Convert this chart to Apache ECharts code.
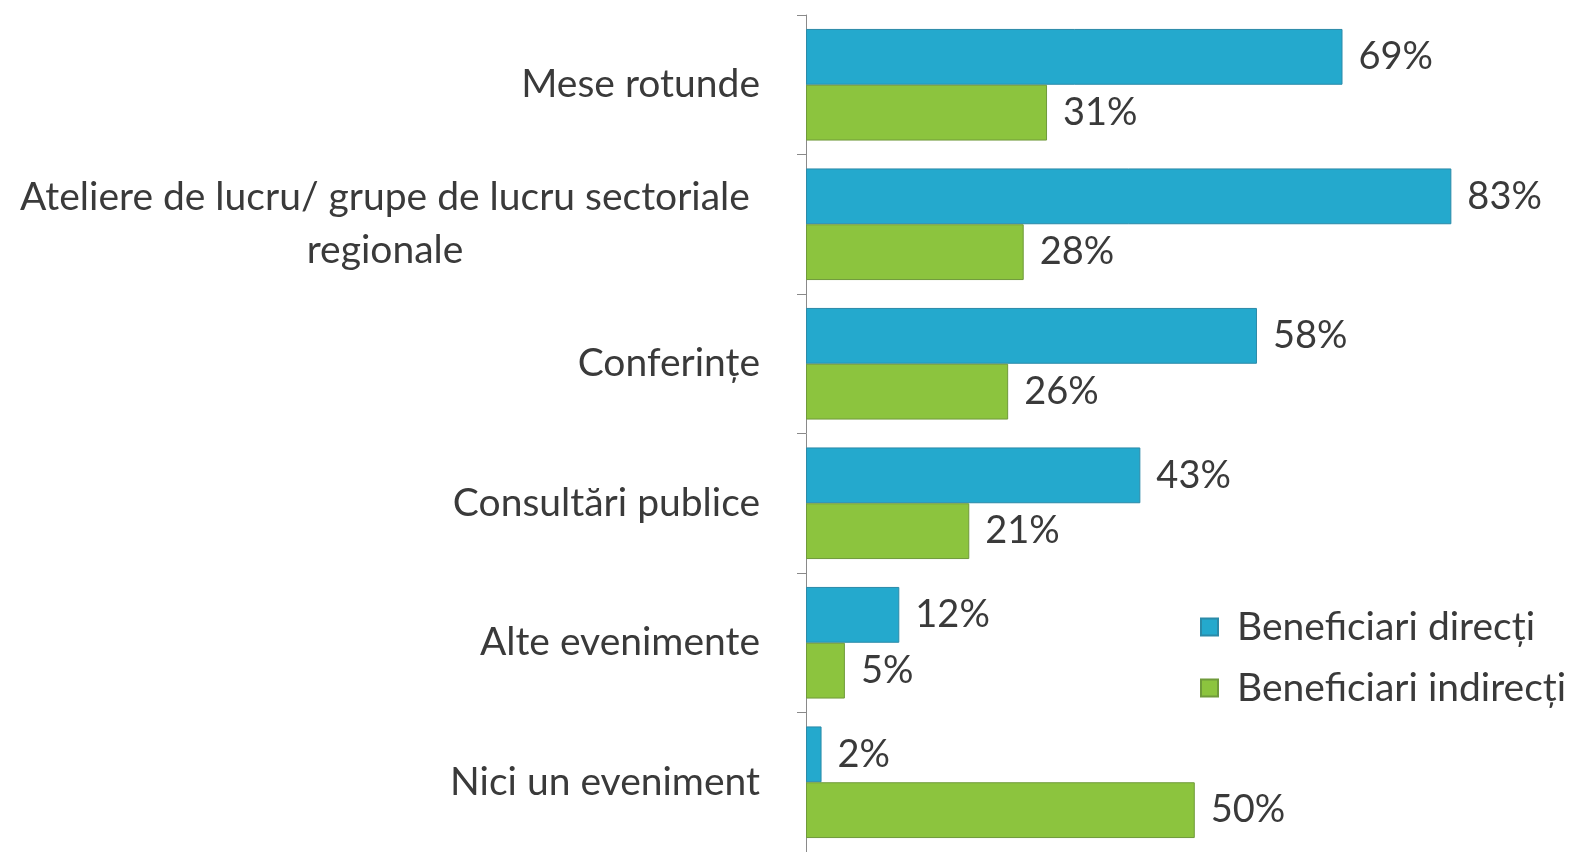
<!DOCTYPE html>
<html>
<head>
<meta charset="utf-8">
<script src="https://cdn.jsdelivr.net/npm/echarts@6/dist/echarts.min.js"></script>
<style>
    html, body { margin: 0; padding: 0; background: #fff; }
    #chart { width: 1574px; height: 852px; }
</style>
</head>
<body>
<div id="chart"></div>
<script>
// data
const categories = [
    'Mese rotunde',
    'Ateliere de lucru/ grupe de lucru sectoriale\nregionale',
    'Conferințe',
    'Consultări publice',
    'Alte evenimente',
    'Nici un eveniment'
];
const seriesNames = ['Beneficiari direcți', 'Beneficiari indirecți'];
const direct = [69, 83, 58, 43, 12, 2];
const indirect = [31, 28, 26, 21, 5, 50];

var dom = document.getElementById('chart');
var chart = echarts.init(dom, null, { renderer: 'canvas' });

const FONT = 'Lato';
const TXT = '#3a3a3a';

var option = {
    animation: false,
    textStyle: { fontFamily: FONT },
    color: ['#24a9cd', '#8cc43e'],
    legend: {
        orient: 'vertical',
        left: 1195,
        top: 600,
        itemWidth: 17,
        itemHeight: 17,
        itemGap: 17,
        icon: 'rect',
        textStyle: { fontSize: 39, lineHeight: 44, color: TXT, fontFamily: FONT, padding: [0, 0, 0, 14] },
        data: seriesNames
    },
    grid: {
        left: 806,
        top: 15,
        width: 762,
        height: 838,
        containLabel: false
    },
    xAxis: {
        type: 'value',
        min: 0,
        max: 98,
        show: false
    },
    yAxis: {
        type: 'category',
        inverse: true,
        data: categories,
        axisLine: { show: true, lineStyle: { color: '#8a8a8a', width: 1 } },
        axisTick: { show: true, length: 9, lineStyle: { color: '#8a8a8a' } },
        axisLabel: {
            fontSize: 39,
            color: TXT,
            margin: 46,
            align: 'right',
            formatter: function (v) {
                if (v.indexOf('\n') >= 0) return '{c|' + v + '}';
                return v;
            },
            rich: {
                c: { fontSize: 39, color: TXT, align: 'center', width: 750, lineHeight: 53, fontFamily: FONT }
            }
        }
    },
    series: [
        {
            name: seriesNames[0],
            type: 'bar',
            data: direct,
            barGap: '0%',
            barCategoryGap: '20%',
            itemStyle: { borderColor: '#2b8aa8', borderWidth: 1 },
            label: {
                show: true, position: 'right', distance: 16,
                formatter: '{c}%', fontSize: 38, color: TXT, fontFamily: FONT
            }
        },
        {
            name: seriesNames[1],
            type: 'bar',
            data: indirect,
            barGap: '0%',
            barCategoryGap: '20%',
            itemStyle: { borderColor: '#6f9a3a', borderWidth: 1 },
            label: {
                show: true, position: 'right', distance: 16,
                formatter: '{c}%', fontSize: 38, color: TXT, fontFamily: FONT
            }
        }
    ]
};

if (option && typeof option === 'object') {
    chart.setOption(option);
}
window.addEventListener('resize', chart.resize);
</script>
</body>
</html>
